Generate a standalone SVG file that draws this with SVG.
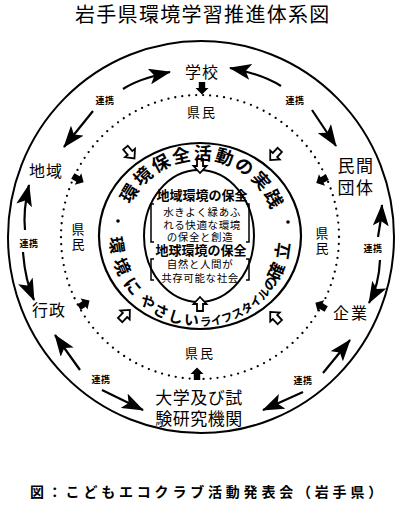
<svg xmlns="http://www.w3.org/2000/svg" xmlns:xlink="http://www.w3.org/1999/xlink" width="400" height="517" viewBox="0 0 400 517">
<style>
text{font-family:"Noto Sans CJK JP","Noto Sans CJK SC",sans-serif;fill:#000}
.title{font-size:20px;letter-spacing:1.3px}
.node{font-size:16px;text-anchor:middle;letter-spacing:1px}
.ken{font-size:13px;text-anchor:middle}
.ren{font-size:9px;font-weight:bold;text-anchor:middle;letter-spacing:0.5px}
.big{font-size:13px;font-weight:bold;text-anchor:middle}
.small{font-size:10.5px;text-anchor:middle;letter-spacing:0.6px}
.ring{font-size:18px;font-weight:bold;letter-spacing:2.2px}
.ring2{font-weight:bold}
.cap{font-size:14px;font-weight:bold;letter-spacing:3.8px}
.circ{fill:none;stroke:#000}
.dot{fill:none;stroke:#000;stroke-width:2.3;stroke-dasharray:0 7;stroke-linecap:round}
.con{fill:none;stroke:#000;stroke-width:2.2;marker-end:url(#ah)}
.br{fill:none;stroke:#000;stroke-width:1.5}
</style>
<defs>
<marker id="ah" markerUnits="userSpaceOnUse" markerWidth="24" markerHeight="16" refX="21" refY="8" orient="auto"><path d="M0,0 L22,8 L0,16 L5,8 Z" fill="#000"/></marker>
<path id="ha" d="M-7,-3 L0,-3 L0,-6.5 L7,0 L0,6.5 L0,3 L-7,3 Z" fill="#fff" stroke="#000" stroke-width="1.8"/>
<path id="fa" d="M-6,-3.2 L0,-3.2 L0,-6.5 L6.5,0 L0,6.5 L0,3.2 L-6,3.2 Z" fill="#000"/>
<path id="arcTop" d="M124,236 A76,76 0 0 1 276,236"/>
<path id="arcBot" d="M110,236 A90,90 0 0 0 290,236"/>
</defs>
<rect width="400" height="517" fill="#fff"/>
<text class="title" x="75" y="22">岩手県環境学習推進体系図</text>

<g id="rings">
<ellipse class="circ" cx="201" cy="237" rx="193" ry="196" stroke-width="2"/>
<ellipse class="dot" cx="200" cy="237" rx="139" ry="142"/>
<ellipse class="circ" cx="200" cy="236" rx="101" ry="93" stroke-width="2.2"/>
<ellipse class="circ" cx="199" cy="236" rx="55" ry="66" stroke-width="2"/>
<circle cx="118" cy="221" r="1.8"/>
<circle cx="288" cy="222" r="1.8"/>
</g>

<g id="connectors">
<path class="con" d="M123,89 Q138,79 170,72"/>
<path class="con" d="M93,111 L64,147"/>
<path class="con" d="M281,86 Q262,74 230,68"/>
<path class="con" d="M312,110 L336,146"/>
<path class="con" d="M25,230 Q23,210 29,185"/>
<path class="con" d="M23,252 Q25,280 34,300"/>
<path class="con" d="M378,237 Q381,222 382,205"/>
<path class="con" d="M380,260 Q379,285 369,303"/>
<path class="con" d="M80,370 L55,335"/>
<path class="con" d="M102,390 L143,410"/>
<path class="con" d="M323,373 L350,340"/>
<path class="con" d="M303,392 L263,410"/>
<use xlink:href="#fa" transform="translate(202,88) rotate(90)"/>
<use xlink:href="#fa" transform="translate(197,374) rotate(-90)"/>
<use xlink:href="#fa" transform="translate(78,179) rotate(30)"/>
<use xlink:href="#fa" transform="translate(84,304) rotate(-32)"/>
<use xlink:href="#fa" transform="translate(322,180) rotate(152)"/>
<use xlink:href="#fa" transform="translate(321,306) rotate(-150)"/>
<use xlink:href="#ha" transform="translate(130,153) rotate(50)"/>
<use xlink:href="#ha" transform="translate(275,155) rotate(133)"/>
<use xlink:href="#ha" transform="translate(125,315) rotate(-46)"/>
<use xlink:href="#ha" transform="translate(275,317) rotate(-133)"/>
<use xlink:href="#ha" transform="translate(200,166) rotate(90)"/>
<use xlink:href="#ha" transform="translate(200,304) rotate(-90)"/>
<text class="ren" x="105" y="103.5">連携</text>
<text class="ren" x="295" y="103.5">連携</text>
<text class="ren" x="29" y="246.5">連携</text>
<text class="ren" x="373" y="251.5">連携</text>
<text class="ren" x="101" y="382.5">連携</text>
<text class="ren" x="303" y="383.5">連携</text>
</g>

<g id="school"><text class="node" x="202" y="78">学校</text></g>
<g id="region"><text class="node" x="46" y="177">地域</text></g>
<g id="government"><text class="node" x="49" y="316">行政</text></g>
<g id="ngo"><text class="node" x="356" y="171.5" style="font-size:17px;letter-spacing:1.5px">民間</text><text class="node" x="356" y="193.5" style="font-size:17px;letter-spacing:1.5px">団体</text></g>
<g id="company"><text class="node" x="351" y="319" style="letter-spacing:2px">企業</text></g>
<g id="university"><text class="node" x="199" y="403.5" style="font-size:17px;letter-spacing:0.5px">大学及び試</text><text class="node" x="199" y="424.5" style="font-size:17px;letter-spacing:0.5px">験研究機関</text></g>

<g id="citizens">
<text class="ken" x="202" y="117" style="letter-spacing:2px">県民</text>
<text class="ken" x="200" y="358" style="letter-spacing:2px">県民</text>
<text class="ken"><tspan x="78" y="234">県</tspan><tspan x="78" y="249">民</tspan></text>
<text class="ken"><tspan x="322" y="238">県</tspan><tspan x="322" y="253">民</tspan></text>
</g>

<g id="practice-ring">
<text class="ring"><textPath xlink:href="#arcTop" startOffset="32">環境保全活動の実践</textPath></text>
<text class="ring2"><textPath xlink:href="#arcBot" startOffset="1.4"><tspan style="font-size:17px;letter-spacing:7px">環境に</tspan><tspan style="font-size:15px;letter-spacing:2px">やさしい</tspan><tspan style="font-size:11.5px;letter-spacing:0px">ライフスタイル</tspan><tspan style="font-size:14px;letter-spacing:-1px">の</tspan><tspan style="font-size:17px;letter-spacing:6px">確立</tspan></textPath></text>
</g>

<g id="core">
<text class="big" x="202" y="200">地域環境の保全</text>
<text class="small" x="202" y="216">水きよく緑あふ</text>
<text class="small" x="202" y="229">れる快適な環境</text>
<text class="small" x="200" y="241">の保全と創造</text>
<text class="big" x="201" y="255">地球環境の保全</text>
<text class="small" x="200" y="268">自然と人間が</text>
<text class="small" x="200" y="281.5">共存可能な社会</text>
<path class="br" d="M154,204 L151,204 L151,242 L154,242"/>
<path class="br" d="M246,204 L249,204 L249,242 L246,242"/>
<path class="br" d="M154,259 L151,259 L151,280 L154,280"/>
<path class="br" d="M246,259 L249,259 L249,280 L246,280"/>
</g>

<text class="cap" x="30" y="497">図：こどもエコクラブ活動発表会（岩手県）</text>
</svg>
